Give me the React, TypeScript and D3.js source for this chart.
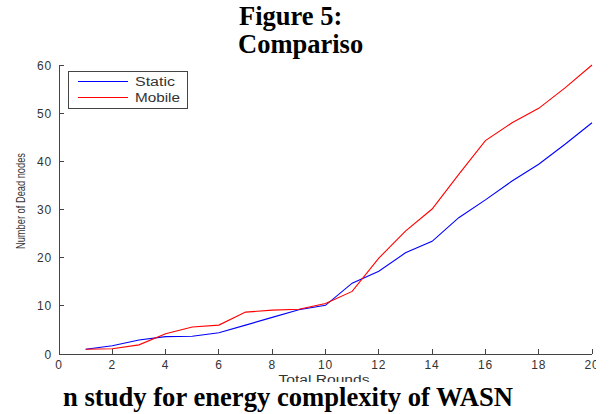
import React from "react";
import * as d3 from "d3";

const rounds = [1, 2, 3, 4, 5, 6, 7, 8, 9, 10, 11, 12, 13, 14, 15, 16, 17, 18, 19, 20];
const staticNodes = [1, 1.7, 2.9, 3.6, 3.7, 4.4, 6.0, 7.6, 9.2, 10.1, 14.7, 17.2, 21, 23.4, 28.3, 32, 35.9, 39.4, 43.6, 48];
const mobileNodes = [1, 1.1, 1.9, 4.2, 5.6, 6.0, 8.7, 9.1, 9.3, 10.5, 13, 19.9, 25.5, 30.1, 37.3, 44.3, 48, 51, 55.3, 60];
const xTicks = [0, 2, 4, 6, 8, 10, 12, 14, 16, 18, 20];
const yTicks = [0, 10, 20, 30, 40, 50, 60];
const seriesNames = ["Static", "Mobile"];
const seriesColors = ["#0000ff", "#ff0000"];

export default function App() {
  const W = 611, H = 414;
  const x = d3.scaleLinear().domain([0, 20]).range([59, 592]);
  const y = d3.scaleLinear().domain([0, 60]).range([354, 65]);
  const line = d3
    .line<number>()
    .x((_, i) => x(rounds[i]))
    .y((d) => y(d));
  const series = [staticNodes, mobileNodes];
  const axisColor = "#444";
  const sans = "'Liberation Sans', Arial, sans-serif";
  const serif = "'Liberation Serif', 'Times New Roman', serif";
  const legendTextLen = [40, 45];
  return (
    <div style={{ position: "fixed", left: 0, top: 0, width: W, height: H, background: "#fff" }}>
      <svg width={W} height={H} style={{ display: "block" }}>
        <defs>
          <clipPath id="clipAll">
            <rect x={0} y={0} width={596} height={H} />
          </clipPath>
        </defs>
        <rect x={0} y={0} width={W} height={H} fill="#fff" />
        <g clipPath="url(#clipAll)">
          {/* axes */}
          <line x1={x(0)} x2={x(0)} y1={y(0)} y2={y(60)} stroke={axisColor} strokeWidth={1} shapeRendering="crispEdges" />
          <line x1={x(0)} x2={x(20)} y1={y(0)} y2={y(0)} stroke={axisColor} strokeWidth={1} shapeRendering="crispEdges" />
          {xTicks.map((t) => (
            <g key={"xt" + t}>
              <line x1={x(t)} x2={x(t)} y1={y(0)} y2={y(0) - 5} stroke={axisColor} shapeRendering="crispEdges" />
              <text x={x(t)} y={y(0) + 14.5} textAnchor="middle" fontFamily={sans} fontSize={12} letterSpacing={0.8} fill="#333">
                {t}
              </text>
            </g>
          ))}
          {yTicks.map((t) => (
            <g key={"yt" + t}>
              <line x1={x(0)} x2={x(0) + 5} y1={y(t)} y2={y(t)} stroke={axisColor} shapeRendering="crispEdges" />
              <text x={x(0) - 7} y={y(t) + 4.5} textAnchor="end" fontFamily={sans} fontSize={12} letterSpacing={0.8} fill="#333">
                {t}
              </text>
            </g>
          ))}
          <text
            transform={`translate(24.5,201) rotate(-90)`}
            textAnchor="middle"
            fontFamily={sans}
            fontSize={12}
            textLength={96}
            lengthAdjust="spacingAndGlyphs"
            fill="#333"
          >
            Number of Dead nodes
          </text>
          <text
            x={324}
            y={383.5}
            textAnchor="middle"
            fontFamily={sans}
            fontSize={12}
            textLength={91}
            lengthAdjust="spacingAndGlyphs"
            fill="#333"
          >
            Total Rounds
          </text>
          {series.map((s, i) => (
            <path key={"s" + i} d={line(s) || ""} fill="none" stroke={seriesColors[i]} strokeWidth={1.1} />
          ))}
          {/* legend */}
          <rect x={68.5} y={71.5} width={119} height={37} fill="#fff" stroke={axisColor} strokeWidth={1} />
          {seriesNames.map((n, i) => (
            <g key={"lg" + i}>
              <line x1={78} x2={128} y1={81.5 + i * 16} y2={81.5 + i * 16} stroke={seriesColors[i]} strokeWidth={1.1} />
              <text
                x={135}
                y={86 + i * 16}
                fontFamily={sans}
                fontSize={12}
                textLength={legendTextLen[i]}
                lengthAdjust="spacingAndGlyphs"
                fill="#333"
              >
                {n}
              </text>
            </g>
          ))}
        </g>
        {/* caption */}
        <rect x={0} y={382} width={W} height={H - 382} fill="#fff" />
        <text x={239} y={25} fontFamily={serif} fontWeight="bold" fontSize={26.5}>
          Figure 5:
        </text>
        <text x={238} y={53} fontFamily={serif} fontWeight="bold" fontSize={26.5}>
          Compariso
        </text>
        <text x={63} y={406} fontFamily={serif} fontWeight="bold" fontSize={26.5} textLength={450} lengthAdjust="spacingAndGlyphs">
          n study for energy complexity of WASN
        </text>
      </svg>
    </div>
  );
}
